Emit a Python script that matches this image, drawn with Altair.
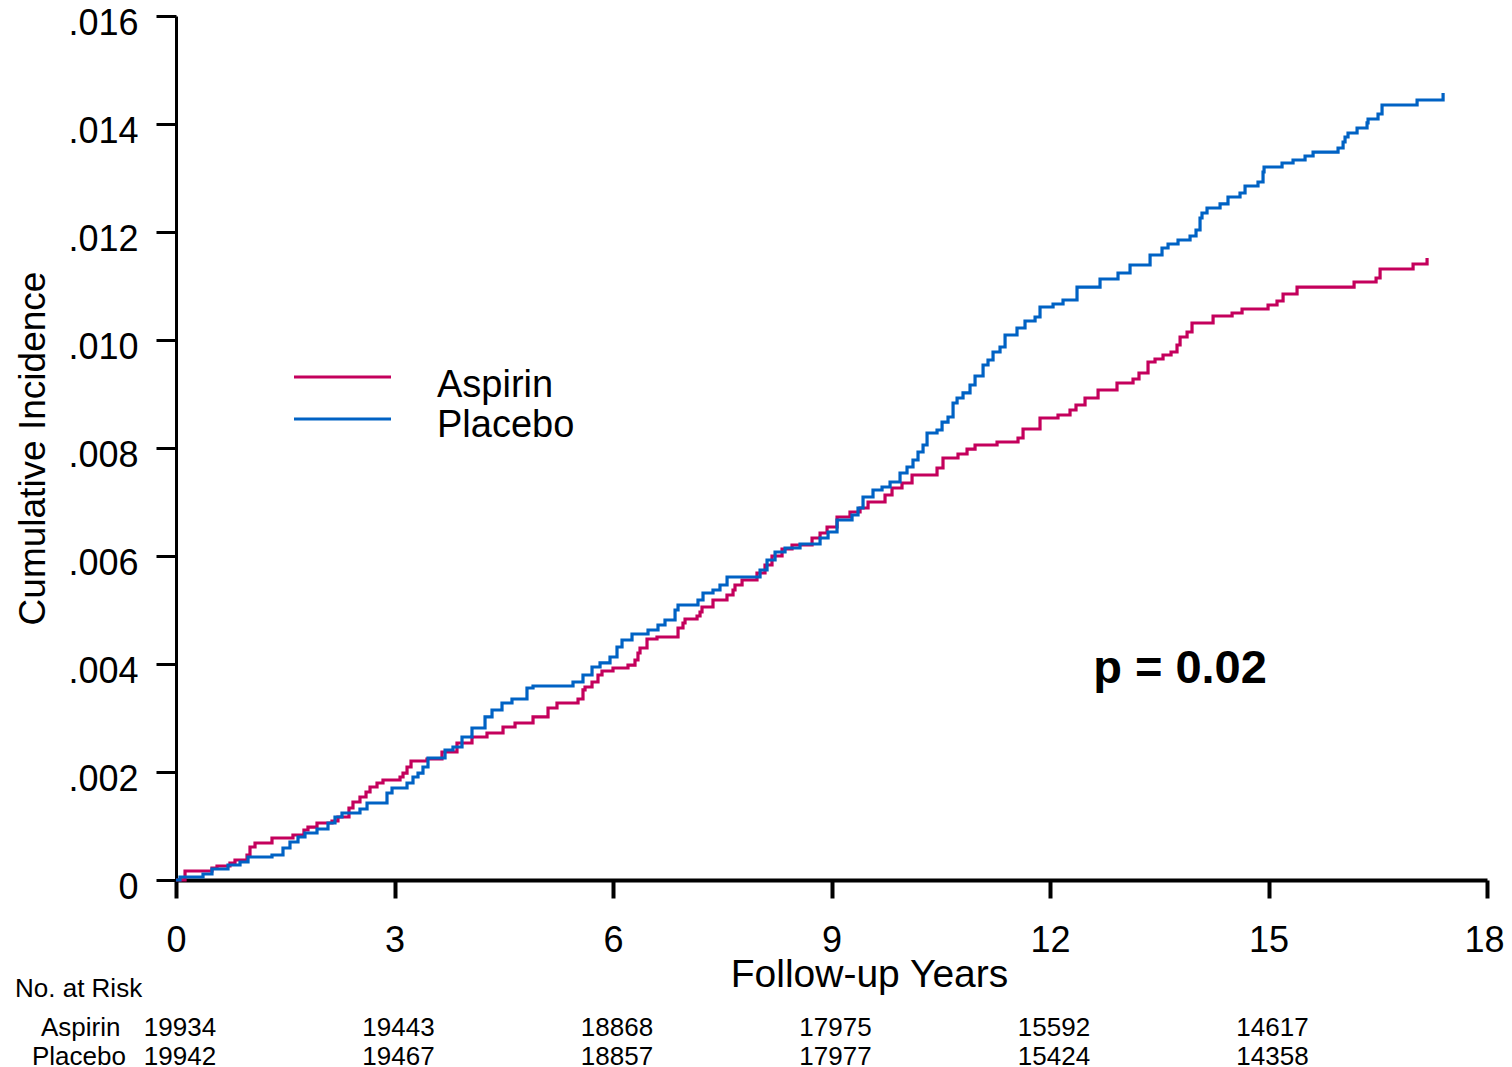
import altair as alt
import pandas as pd

FONT = "Liberation Sans"

groups = ["Aspirin", "Placebo"]
colors = ["#C4005C", "#0062C4"]

aspirin_years = [0, 0.124, 0.494, 0.563, 0.741, 0.810, 0.975, 1.016, 1.085, 1.318, 1.606, 1.757, 1.812, 1.936,
                 2.142, 2.224, 2.375, 2.430, 2.526, 2.609, 2.664, 2.760, 2.842, 3.076, 3.117, 3.172, 3.227, 3.446,
                 3.652, 3.858, 4.064, 4.270, 4.490, 4.655, 4.902, 5.108, 5.231, 5.520, 5.588, 5.616, 5.712, 5.794,
                 5.849, 6.000, 6.206, 6.302, 6.343, 6.371, 6.467, 6.604, 6.893, 6.961, 6.989, 7.154, 7.195, 7.222,
                 7.373, 7.565, 7.648, 7.675, 7.772, 7.977, 8.087, 8.183, 8.321, 8.458, 8.733, 8.843, 8.939, 9.076,
                 9.254, 9.392, 9.502, 9.735, 9.831, 9.968, 10.106, 10.449, 10.531, 10.737, 10.861, 10.971, 11.273,
                 11.561, 11.630, 11.863, 12.110, 12.275, 12.357, 12.481, 12.660, 12.920, 13.140, 13.222, 13.346,
                 13.442, 13.552, 13.662, 13.744, 13.786, 13.882, 13.950, 14.239, 14.500, 14.637, 14.994, 15.117,
                 15.200, 15.392, 16.175, 16.477, 16.532, 16.985, 17.177]
aspirin_inc = [0, 0.000167, 0.000222, 0.000259, 0.000315, 0.000370, 0.000463, 0.000611, 0.000685, 0.000778,
               0.000833, 0.000926, 0.000981, 0.001056, 0.001093, 0.001167, 0.001333, 0.001444, 0.001537, 0.001630,
               0.001722, 0.001796, 0.001852, 0.001907, 0.001981, 0.002093, 0.002204, 0.002241, 0.002370, 0.002537,
               0.002648, 0.002722, 0.002833, 0.002907, 0.003019, 0.003185, 0.003278, 0.003352, 0.003519, 0.003574,
               0.003667, 0.003796, 0.003870, 0.003926, 0.003981, 0.004074, 0.004204, 0.004296, 0.004463, 0.004500,
               0.004667, 0.004759, 0.004833, 0.004889, 0.004963, 0.005056, 0.005185, 0.005278, 0.005370, 0.005463,
               0.005556, 0.005685, 0.005833, 0.006000, 0.006130, 0.006204, 0.006333, 0.006426, 0.006537, 0.006722,
               0.006815, 0.006889, 0.007000, 0.007130, 0.007259, 0.007352, 0.007500, 0.007630, 0.007815, 0.007889,
               0.007981, 0.008056, 0.008111, 0.008185, 0.008352, 0.008556, 0.008611, 0.008704, 0.008796, 0.008926,
               0.009074, 0.009204, 0.009278, 0.009389, 0.009593, 0.009648, 0.009722, 0.009778, 0.009907, 0.010056,
               0.010148, 0.010315, 0.010444, 0.010500, 0.010574, 0.010648, 0.010722, 0.010852, 0.010981, 0.011074,
               0.011148, 0.011315, 0.011407, 0.011519]

placebo_years = [0, 0.055, 0.371, 0.494, 0.714, 0.879, 0.989, 1.318, 1.469, 1.565, 1.675, 1.771, 1.936, 2.087,
                 2.183, 2.279, 2.526, 2.623, 2.897, 2.966, 3.172, 3.254, 3.323, 3.391, 3.460, 3.694, 3.803, 3.927,
                 4.064, 4.243, 4.339, 4.476, 4.613, 4.819, 4.902, 5.451, 5.588, 5.712, 5.822, 5.959, 6.055, 6.124,
                 6.261, 6.481, 6.618, 6.714, 6.852, 6.893, 7.167, 7.236, 7.373, 7.469, 7.566, 8.019, 8.115, 8.225,
                 8.362, 8.568, 8.843, 8.953, 9.076, 9.282, 9.364, 9.433, 9.570, 9.694, 9.804, 9.941, 10.037, 10.119,
                 10.188, 10.257, 10.312, 10.449, 10.518, 10.600, 10.669, 10.724, 10.806, 10.902, 10.971, 11.081,
                 11.149, 11.218, 11.314, 11.383, 11.547, 11.657, 11.795, 11.863, 12.042, 12.179, 12.371, 12.687,
                 12.934, 13.099, 13.374, 13.538, 13.621, 13.758, 13.923, 14.005, 14.060, 14.087, 14.156, 14.335,
                 14.444, 14.609, 14.678, 14.856, 14.925, 14.939, 15.186, 15.337, 15.502, 15.612, 15.955, 16.024,
                 16.051, 16.092, 16.216, 16.353, 16.367, 16.504, 16.559, 17.040, 17.397]
placebo_inc = [0, 0.000056, 0.000111, 0.000204, 0.000278, 0.000333, 0.000426, 0.000463, 0.000593, 0.000704,
               0.000796, 0.000870, 0.000944, 0.001056, 0.001167, 0.001241, 0.001315, 0.001426, 0.001611, 0.001704,
               0.001796, 0.001907, 0.001981, 0.002093, 0.002259, 0.002407, 0.002463, 0.002648, 0.002815, 0.003019,
               0.003148, 0.003278, 0.003352, 0.003556, 0.003593, 0.003667, 0.003796, 0.003944, 0.004019, 0.004130,
               0.004315, 0.004444, 0.004556, 0.004630, 0.004722, 0.004815, 0.005000, 0.005093, 0.005185, 0.005315,
               0.005370, 0.005463, 0.005611, 0.005741, 0.005926, 0.006074, 0.006148, 0.006222, 0.006333, 0.006444,
               0.006667, 0.006759, 0.006889, 0.007093, 0.007222, 0.007278, 0.007370, 0.007537, 0.007648, 0.007778,
               0.007926, 0.008056, 0.008278, 0.008333, 0.008481, 0.008574, 0.008833, 0.008926, 0.009019, 0.009167,
               0.009333, 0.009537, 0.009630, 0.009778, 0.009870, 0.010093, 0.010222, 0.010352, 0.010426, 0.010611,
               0.010667, 0.010741, 0.010981, 0.011130, 0.011241, 0.011389, 0.011574, 0.011704, 0.011778, 0.011852,
               0.011926, 0.012037, 0.012259, 0.012352, 0.012444, 0.012519, 0.012648, 0.012722, 0.012852, 0.012926,
               0.013111, 0.013204, 0.013278, 0.013333, 0.013407, 0.013481, 0.013556, 0.013667, 0.013759, 0.013833,
               0.013926, 0.014019, 0.014093, 0.014185, 0.014352, 0.014444, 0.014574]

risk_years = [0, 3, 6, 9, 12, 15]
aspirin_risk = [19934, 19443, 18868, 17975, 15592, 14617]
placebo_risk = [19942, 19467, 18857, 17977, 15424, 14358]

x_ticks = [0, 3, 6, 9, 12, 15, 18]
y_ticks = [0, 0.002, 0.004, 0.006, 0.008, 0.010, 0.012, 0.014, 0.016]

p_label = "p = 0.02"
risk_header = "No. at Risk"

# ---- data frames ----
curves = pd.concat([
    pd.DataFrame({"year": aspirin_years, "inc": aspirin_inc, "group": groups[0], "ord": 0}),
    pd.DataFrame({"year": placebo_years, "inc": placebo_inc, "group": groups[1], "ord": 1}),
], ignore_index=True)

risk = pd.concat([
    pd.DataFrame({"year": risk_years, "n": aspirin_risk, "group": groups[0]}),
    pd.DataFrame({"year": risk_years, "n": placebo_risk, "group": groups[1]}),
], ignore_index=True)

color_scale = alt.Scale(domain=groups, range=colors)
x_scale = alt.Scale(domain=[0, 18], nice=False, zero=False)
y_scale = alt.Scale(domain=[0, 0.016], nice=False, zero=False)

x_axis = alt.Axis(values=x_ticks, format="d", tickSize=18, tickWidth=4, tickColor="black",
                  domainColor="black", domainWidth=4, labelFontSize=36, labelFont=FONT,
                  labelColor="black", labelPadding=25, labelFlush=False, labelOverlap=False,
                  labelOffset={"condition": {"test": "datum.value == 18", "value": -3}, "value": 0},
                  grid=False, title="Follow-up Years", titleFont=FONT, titleFontSize=39,
                  titleFontWeight="normal", titleColor="black", titleX=693, titleY=106,
                  titleBaseline="alphabetic", titleAlign="center")

y_axis = alt.Axis(values=y_ticks,
                  labelExpr="datum.value == 0 ? '0' : replace(format(datum.value, '.3f'), '0.', '.')",
                  tickSize=20, tickWidth=3, tickColor="black", domainColor="black", domainWidth=3,
                  labelFontSize=36, labelFont=FONT, labelColor="black", labelPadding=18,
                  labelBaseline="middle", labelOffset=7, labelFlush=False, labelOverlap=False,
                  grid=False, title="Cumulative Incidence", titleFont=FONT, titleFontSize=37,
                  titleFontWeight="normal", titleColor="black", titleX=-132, titleY=432,
                  titleAngle=270, titleBaseline="alphabetic", titleAlign="center")

lines = alt.Chart(curves).mark_line(interpolate="step-after", strokeWidth=3.2).encode(
    x=alt.X("year:Q", scale=x_scale, axis=x_axis),
    y=alt.Y("inc:Q", scale=y_scale, axis=y_axis),
    color=alt.Color("group:N", scale=color_scale, legend=None),
    order=alt.Order("ord:Q"),
)

layers = [lines]

# custom legend
leg_rule_y = [361, 403]
leg_text_y = [381, 421]
for i, g in enumerate(groups):
    d = pd.DataFrame({"group": [g]})
    layers.append(alt.Chart(d).mark_rule(strokeWidth=3).encode(
        x=alt.value(118), x2=alt.value(215), y=alt.value(leg_rule_y[i]),
        color=alt.Color("group:N", scale=color_scale, legend=None)))
    layers.append(alt.Chart(d).mark_text(align="left", baseline="alphabetic", font=FONT,
                                         fontSize=38, color="black").encode(
        x=alt.value(261), y=alt.value(leg_text_y[i]), text="group:N"))

# p-value annotation
layers.append(alt.Chart(pd.DataFrame({"t": [p_label]})).mark_text(
    align="center", baseline="alphabetic", font=FONT, fontSize=47, fontWeight="bold", color="black"
).encode(x=alt.value(1004), y=alt.value(667), text="t:N"))

# risk table
layers.append(alt.Chart(pd.DataFrame({"t": [risk_header]})).mark_text(
    align="left", baseline="alphabetic", font=FONT, fontSize=26, color="black"
).encode(x=alt.value(-161), y=alt.value(981), text="t:N"))

row_label_x = [-135, -144]
row_y = [1020, 1049]
for i, g in enumerate(groups):
    layers.append(alt.Chart(pd.DataFrame({"t": [g]})).mark_text(
        align="left", baseline="alphabetic", font=FONT, fontSize=26, color="black"
    ).encode(x=alt.value(row_label_x[i]), y=alt.value(row_y[i]), text="t:N"))
    layers.append(alt.Chart(risk[risk["group"] == g]).mark_text(
        align="center", baseline="alphabetic", font=FONT, fontSize=26, color="black", dx=4
    ).encode(x=alt.X("year:Q", scale=x_scale), y=alt.value(row_y[i]), text="n:Q"))

chart = alt.layer(*layers).properties(
    width=1311, height=864,
    autosize=alt.AutoSizeParams(type="none"),
    padding={"left": 168, "top": 8, "right": 17, "bottom": 187},
    background="white",
).configure_view(stroke=None)

chart.save("out.html", embed_options={"renderer": "svg", "actions": False})
